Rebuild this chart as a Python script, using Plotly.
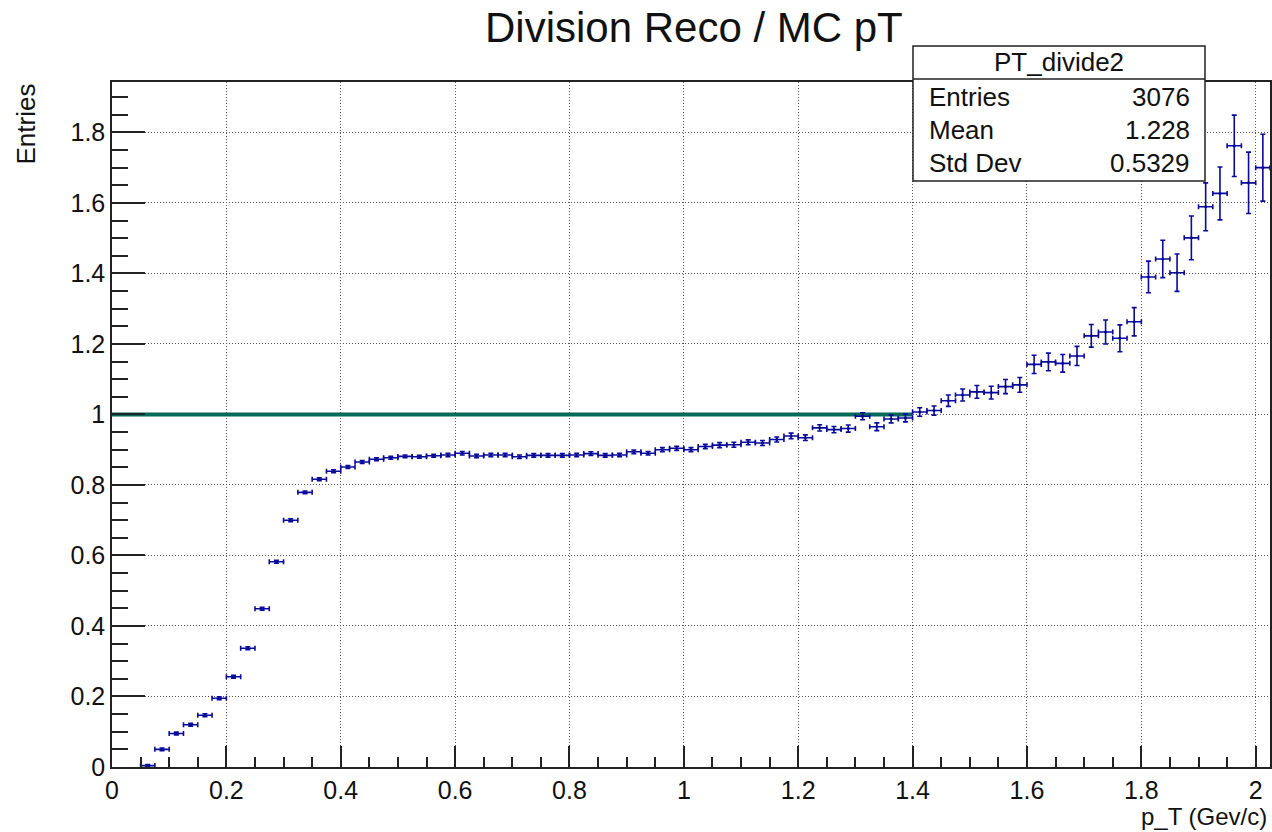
import plotly.graph_objects as go

# ---- histogram PT_divide2: bin centres (width 0.025), contents and errors ----
bin_width = 0.025
pt_centers = [0.0625 + bin_width * k for k in range(79)]
ratio = [
    0.004, 0.050, 0.095, 0.120, 0.147, 0.195, 0.256, 0.337, 0.449, 0.582,
    0.700, 0.779, 0.816, 0.839, 0.851, 0.865, 0.873, 0.877, 0.881, 0.880,
    0.883, 0.885, 0.890, 0.882, 0.885, 0.885, 0.880, 0.884, 0.884, 0.884,
    0.885, 0.889, 0.884, 0.885, 0.894, 0.890, 0.900, 0.904, 0.900, 0.909,
    0.913, 0.914, 0.921, 0.919, 0.929, 0.939, 0.934, 0.962, 0.957, 0.960,
    0.995, 0.965, 0.987, 0.990, 1.007, 1.011, 1.039, 1.055, 1.064, 1.062,
    1.079, 1.084, 1.142, 1.149, 1.145, 1.166, 1.223, 1.234, 1.216, 1.263,
    1.390, 1.441, 1.402, 1.501, 1.589, 1.627, 1.762, 1.657, 1.700,
]
ratio_err = [
    0.003, 0.004, 0.004, 0.004, 0.004, 0.004, 0.004, 0.004, 0.004, 0.004,
    0.004, 0.004, 0.004, 0.004, 0.004, 0.004, 0.004, 0.004, 0.004, 0.004,
    0.004, 0.005, 0.005, 0.005, 0.005, 0.005, 0.005, 0.005, 0.005, 0.005,
    0.005, 0.005, 0.005, 0.005, 0.005, 0.005, 0.006, 0.006, 0.006, 0.006,
    0.007, 0.007, 0.007, 0.007, 0.007, 0.008, 0.008, 0.009, 0.009, 0.010,
    0.010, 0.011, 0.011, 0.011, 0.012, 0.013, 0.016, 0.017, 0.018, 0.018,
    0.020, 0.021, 0.026, 0.025, 0.025, 0.027, 0.032, 0.034, 0.038, 0.040,
    0.045, 0.053, 0.053, 0.062, 0.068, 0.075, 0.087, 0.087, 0.095,
]

# reference line at unity
unity_x = [0.0, 1.4]
unity_y = [1.0, 1.0]

# statistics box content
stats_title = "PT_divide2"
stats_labels = ["Entries", "Mean", "Std Dev"]
stats_values = ["3076", "1.228", "0.5329"]

x_range = [0.0, 2.025]
y_range = [0.0, 1.943]

# ---- canvas geometry (pixels) ----
W, H = 1272, 832
L, R, T, B = 112, 1270, 82, 767


def px(xp):
    return (xp - L) / (R - L)


def py(yp):
    return (B - yp) / (B - T)


FONT = "Liberation Sans, Arial, sans-serif"
HIST_COLOR = "#0a0a99"
GRID = "1px,2px"

fig = go.Figure()

fig.add_trace(go.Scatter(
    x=unity_x, y=unity_y, mode="lines",
    line=dict(color="#00695a", width=4),
    hoverinfo="skip", showlegend=False,
))

fig.add_trace(go.Scatter(
    x=pt_centers, y=ratio, mode="markers",
    marker=dict(color=HIST_COLOR, size=3),
    error_x=dict(type="constant", value=bin_width / 2, color=HIST_COLOR,
                 thickness=1.6, width=2.5),
    error_y=dict(type="data", array=ratio_err, color=HIST_COLOR,
                 thickness=1.6, width=2.5),
    showlegend=False,
))

axis_common = dict(
    showline=True, mirror=True, linecolor="#222", linewidth=1.5,
    ticks="inside", tickcolor="#222", tickwidth=1.5,
    showgrid=True, gridcolor="#555", gridwidth=1, griddash=GRID,
    zeroline=False, automargin=False,
    tickfont=dict(family=FONT, size=25, color="#111"),
    tick0=0, dtick=0.2,
)

fig.update_xaxes(
    range=x_range, ticklen=21,
    minor=dict(dtick=0.05, tick0=0, ticks="inside", ticklen=10.5,
               tickwidth=1.5, tickcolor="#222", showgrid=False),
    **axis_common,
)
fig.update_yaxes(
    range=y_range, ticklen=33,
    minor=dict(dtick=0.05, tick0=0, ticks="inside", ticklen=16.5,
               tickwidth=1.5, tickcolor="#222", showgrid=False),
    **axis_common,
)

shapes = [
    # statistics box
    dict(type="rect", xref="paper", yref="paper",
         x0=px(913), x1=px(1205), y0=py(181), y1=py(46),
         line=dict(color="#222", width=1.5), fillcolor="white", layer="above"),
    dict(type="line", xref="paper", yref="paper",
         x0=px(913), x1=px(1205), y0=py(79), y1=py(79),
         line=dict(color="#222", width=1.5), layer="above"),
]

annotations = [
    dict(text="Division Reco / MC pT", xref="paper", yref="paper",
         x=px(694), y=py(28), xanchor="center", yanchor="middle",
         showarrow=False, font=dict(family=FONT, size=42, color="#111")),
    dict(text="Entries", xref="paper", yref="paper",
         x=px(25), y=py(82), xanchor="center", yanchor="top", textangle=-90,
         showarrow=False, font=dict(family=FONT, size=26, color="#111")),
    dict(text="p_T (Gev/c)", xref="paper", yref="paper",
         x=px(1269), y=py(817), xanchor="right", yanchor="middle",
         showarrow=False, font=dict(family=FONT, size=24, color="#111")),
    dict(text=stats_title, xref="paper", yref="paper",
         x=px(1059), y=py(62), xanchor="center", yanchor="middle",
         showarrow=False, font=dict(family=FONT, size=26, color="#111")),
]
for i, (lab, val) in enumerate(zip(stats_labels, stats_values)):
    yrow = 97 + 33 * i
    annotations.append(dict(text=lab, xref="paper", yref="paper",
                            x=px(927), y=py(yrow), xanchor="left", yanchor="middle",
                            showarrow=False,
                            font=dict(family=FONT, size=26, color="#111")))
    annotations.append(dict(text=val, xref="paper", yref="paper",
                            x=px(1192), y=py(yrow), xanchor="right", yanchor="middle",
                            showarrow=False,
                            font=dict(family=FONT, size=26, color="#111")))

fig.update_layout(
    template="none",
    width=W, height=H,
    margin=dict(l=L, r=W - R, t=T, b=H - B, pad=0),
    paper_bgcolor="white", plot_bgcolor="white",
    shapes=shapes, annotations=annotations,
    showlegend=False,
)

fig.write_html("out.html")
